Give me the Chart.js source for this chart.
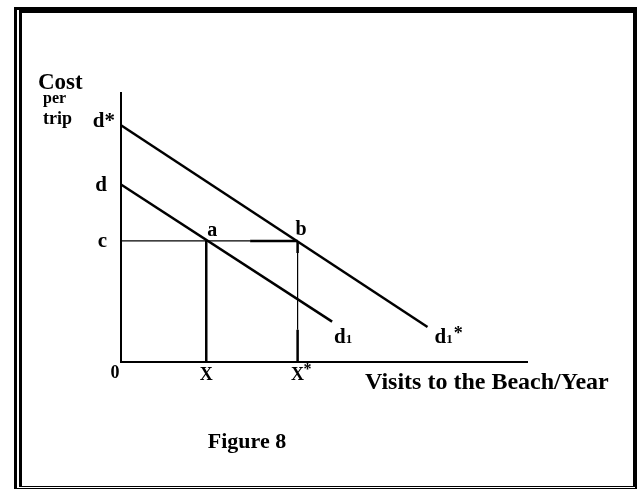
<!DOCTYPE html>
<html>
<head>
<meta charset="utf-8">
<title>Figure 8</title>
<script src="https://cdn.jsdelivr.net/npm/chart.js@4/dist/chart.umd.min.js"></script>
<style>
  html, body { margin: 0; padding: 0; background: #fff; }
  body { width: 639px; height: 491px; position: relative; overflow: hidden; }
  .frame {
    position: absolute;
    left: 14px; top: 7px; width: 611px; height: 473px;
    border-left: 8px double #000;
    border-top: 6px solid #000;
    border-right: 4px solid #000;
    border-bottom: 3px double #000;
  }
  #figure { position: absolute; left: 0; top: 0; }
</style>
</head>
<body>
<div class="frame"></div>
<canvas id="figure" width="639" height="491"></canvas>
<script>
// === Travel cost demand diagram ===

// demand curves: d -> d1 and the shifted d* -> d1*
const curveNames = ['d1', 'd1*'];
const curveStartY = [6.6, 8.8];       // intercepts d, d*
const curveEndX = [5.2, 7.55];
const curveEndY = [1.5, 1.3];

// cost per trip and the visits it buys on each curve
const costC = 4.5;
const visits = [2.1, 4.35];           // x, x*
const visitLabels = ['X', 'X*'];

// where the guide lines switch between thin and heavy strokes
const guideBreakX = 3.18;
const guideBreakY = [4.05, 1.2];

const axisMax = 10;
const ink = '#000';
const serif = '"Liberation Serif", "Times New Roman", serif';

function seg(points, width) {
  return {
    data: points.map(p => ({ x: p[0], y: p[1] })),
    showLine: true,
    borderColor: ink,
    borderWidth: width,
    pointRadius: 0,
    clip: false
  };
}

const datasets = [];

// the two demand lines
curveNames.forEach((name, i) => {
  datasets.push(seg([[0, curveStartY[i]], [curveEndX[i], curveEndY[i]]], 2.5));
});

// horizontal line at c: thin to the axis, heavy near b
datasets.push(seg([[0, costC], [guideBreakX, costC]], 1.2));
datasets.push(seg([[guideBreakX, costC], [visits[1], costC]], 2.5));

// drop line from a to x
datasets.push(seg([[visits[0], costC], [visits[0], 0]], 2.5));

// drop line from b to x*
datasets.push(seg([[visits[1], costC], [visits[1], guideBreakY[0]]], 2.5));
datasets.push(seg([[visits[1], guideBreakY[0]], [visits[1], guideBreakY[1]]], 1.2));
datasets.push(seg([[visits[1], guideBreakY[1]], [visits[1], 0]], 2.5));

function text(ctx, str, x, y, size, align) {
  ctx.font = 'bold ' + size + 'px ' + serif;
  ctx.textAlign = align || 'left';
  ctx.textBaseline = 'alphabetic';
  ctx.fillText(str, x, y);
}

// "d" with a small "1" beside it
function subLabel(ctx, str, x, y) {
  text(ctx, 'd', x, y, 21);
  const w = ctx.measureText('d').width;
  text(ctx, '1', x + w, y, 13);
  if (str.endsWith('*')) {
    const w1 = ctx.measureText('1').width;
    text(ctx, '*', x + w + w1 + 1, y - 4, 18);
  }
}

const labelPlugin = {
  id: 'labels',
  afterDatasetsDraw(chart) {
    const ctx = chart.ctx;
    const xs = chart.scales.x;
    const ys = chart.scales.y;
    const area = chart.chartArea;
    ctx.save();
    ctx.fillStyle = ink;

    // y axis title
    text(ctx, 'Cost', area.left - 83, 89, 23);
    text(ctx, 'per', area.left - 78, 103, 16);
    text(ctx, 'trip', area.left - 78, 124, 18);

    // intercepts on the cost axis
    text(ctx, 'd*', area.left - 6, ys.getPixelForValue(curveStartY[1]) + 2, 21, 'right');
    text(ctx, 'd', area.left - 14, ys.getPixelForValue(curveStartY[0]) + 7, 21, 'right');
    text(ctx, 'c', area.left - 14, ys.getPixelForValue(costC) + 6, 21, 'right');

    // points a and b
    text(ctx, 'a', xs.getPixelForValue(visits[0]) + 1, ys.getPixelForValue(costC) - 5, 20);
    text(ctx, 'b', xs.getPixelForValue(visits[1]) - 2, ys.getPixelForValue(costC) - 6, 20);

    // curve end labels
    curveNames.forEach((name, i) => {
      const ex = xs.getPixelForValue(curveEndX[i]);
      subLabel(ctx, name, ex + (i === 0 ? 2 : 7), area.bottom - 19);
    });

    // x axis marks
    text(ctx, '0', area.left - 6, area.bottom + 16, 18, 'center');
    text(ctx, visitLabels[0], xs.getPixelForValue(visits[0]), area.bottom + 18, 18, 'center');
    text(ctx, 'X', xs.getPixelForValue(visits[1]), area.bottom + 18, 18, 'center');
    text(ctx, '*', xs.getPixelForValue(visits[1]) + 6, area.bottom + 12, 16);

    // x axis title and caption
    text(ctx, 'Visits to the Beach/Year', 365, area.bottom + 27, 24);
    text(ctx, 'Figure 8', 247, 448, 22, 'center');

    ctx.restore();
  }
};

new Chart(document.getElementById('figure'), {
  type: 'scatter',
  data: { datasets },
  options: {
    responsive: false,
    animation: false,
    layout: { padding: { left: 121, top: 93, right: 112, bottom: 129 } },
    plugins: {
      legend: { display: false },
      tooltip: { enabled: false }
    },
    scales: {
      x: {
        type: 'linear',
        min: 0,
        max: axisMax,
        grid: { display: false, drawTicks: false },
        ticks: { display: false },
        border: { display: true, color: ink, width: 2 }
      },
      y: {
        type: 'linear',
        min: 0,
        max: axisMax,
        grid: { display: false, drawTicks: false },
        ticks: { display: false },
        border: { display: true, color: ink, width: 2 }
      }
    }
  },
  plugins: [labelPlugin]
});
</script>
</body>
</html>
